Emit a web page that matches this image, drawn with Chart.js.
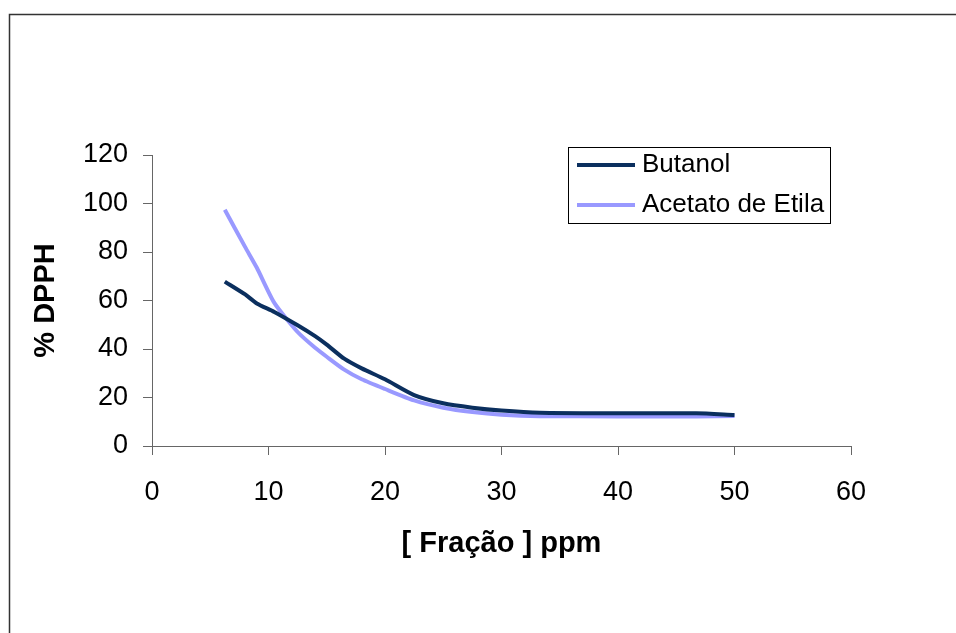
<!DOCTYPE html>
<html>
<head>
<meta charset="utf-8">
<script src="https://cdn.jsdelivr.net/npm/chart.js@4/dist/chart.umd.min.js"></script>
<style>
html,body{margin:0;padding:0;background:#fff}
#wrap{width:956px;height:633px;position:relative}
</style>
</head>
<body>
<div id="wrap"><canvas id="c"></canvas></div>
<script>
'use strict';

// concentração da fração (ppm)
const conc    = [6.25, 8, 9, 10.5, 12.5, 14, 15, 16.5, 18, 20, 22.5, 25, 27.5, 30, 33.3, 40, 46.7, 50];
const butanol = [67.8, 62.5, 58.8, 55.3, 49.8, 45.3, 41.8, 36, 32, 27.5, 21, 17.6, 15.8, 14.6, 13.7, 13.5, 13.5, 12.8];
const acetato = [97.4, 82, 73.5, 59, 47, 40.5, 36.8, 31.5, 27.5, 23.5, 18.8, 15.8, 14, 12.9, 12.3, 12.2, 12.2, 12.4];
const seriesNames = ['Butanol', 'Acetato de Etila'];
const xTicks = [0, 10, 20, 30, 40, 50, 60];
const yTicks = [0, 20, 40, 60, 80, 100, 120];

const FONT = '"Liberation Sans", Arial, sans-serif';
const pts = ys => conc.map((x,i)=>({x, y:ys[i]}));

const frame = {
  id:'frame',
  beforeDraw(chart){
    const c=chart.ctx; c.save();
    c.fillStyle='#fff'; c.fillRect(0,0,chart.width,chart.height);
    c.strokeStyle='#333'; c.lineWidth=1.5;
    c.strokeRect(9.5,14.5,1000,700);
    c.restore();
  }
};

const legendBox = {
  id:'legendBox',
  afterDraw(chart){
    const c=chart.ctx; c.save();
    c.fillStyle='#fff'; c.fillRect(568,147,262,76);
    c.strokeStyle='#000'; c.lineWidth=1; c.strokeRect(568.5,147.5,262,76);
    c.font='26px '+FONT; c.textBaseline='middle'; c.fillStyle='#000';
    chart.data.datasets.forEach((ds,i)=>{
      const y=165+i*40;
      c.strokeStyle=ds.borderColor; c.lineWidth=4;
      c.beginPath(); c.moveTo(577,y); c.lineTo(635,y); c.stroke();
      c.fillText(ds.label,642,y);
    });
    c.restore();
  }
};

new Chart(document.getElementById('c').getContext('2d'), {
  type:'line',
  data:{datasets:[
    {label:seriesNames[0],data:pts(butanol),borderColor:'#0b2f5e',borderWidth:4,pointRadius:0,tension:0.25,fill:false},
    {label:seriesNames[1],data:pts(acetato),borderColor:'#9999ff',borderWidth:4,pointRadius:0,tension:0.2,fill:false}
  ]},
  options:{
    responsive:true,maintainAspectRatio:false,animation:false,
    layout:{padding:{top:155,right:105,left:0,bottom:0}},
    plugins:{legend:{display:false},tooltip:{enabled:false}},
    scales:{
      x:{type:'linear',min:0,max:60,
        afterBuildTicks:s=>{s.ticks=xTicks.map(v=>({value:v}));},
        afterFit:s=>{s.height=187;},
        ticks:{color:'#000',font:{family:FONT,size:27},padding:21,maxRotation:0},
        grid:{display:true,drawOnChartArea:false,drawTicks:true,tickLength:9,color:'#666'},
        border:{display:true,color:'#666',width:1},
        title:{display:true,text:'[ Fração ] ppm',color:'#000',font:{family:FONT,size:29,weight:'bold'},padding:{top:0,bottom:72}}
      },
      y:{min:0,max:120,
        afterBuildTicks:s=>{s.ticks=yTicks.map(v=>({value:v}));},
        afterFit:s=>{s.width=152;},
        ticks:{color:'#000',font:{family:FONT,size:27},padding:15},
        grid:{display:true,drawOnChartArea:false,drawTicks:true,tickLength:9,color:'#666'},
        border:{display:true,color:'#666',width:1},
        title:{display:true,text:'% DPPH',color:'#000',font:{family:FONT,size:29,weight:'bold'},padding:{top:29,bottom:0}}
      }
    }
  },
  plugins:[frame,legendBox]
});
</script>
</body>
</html>
